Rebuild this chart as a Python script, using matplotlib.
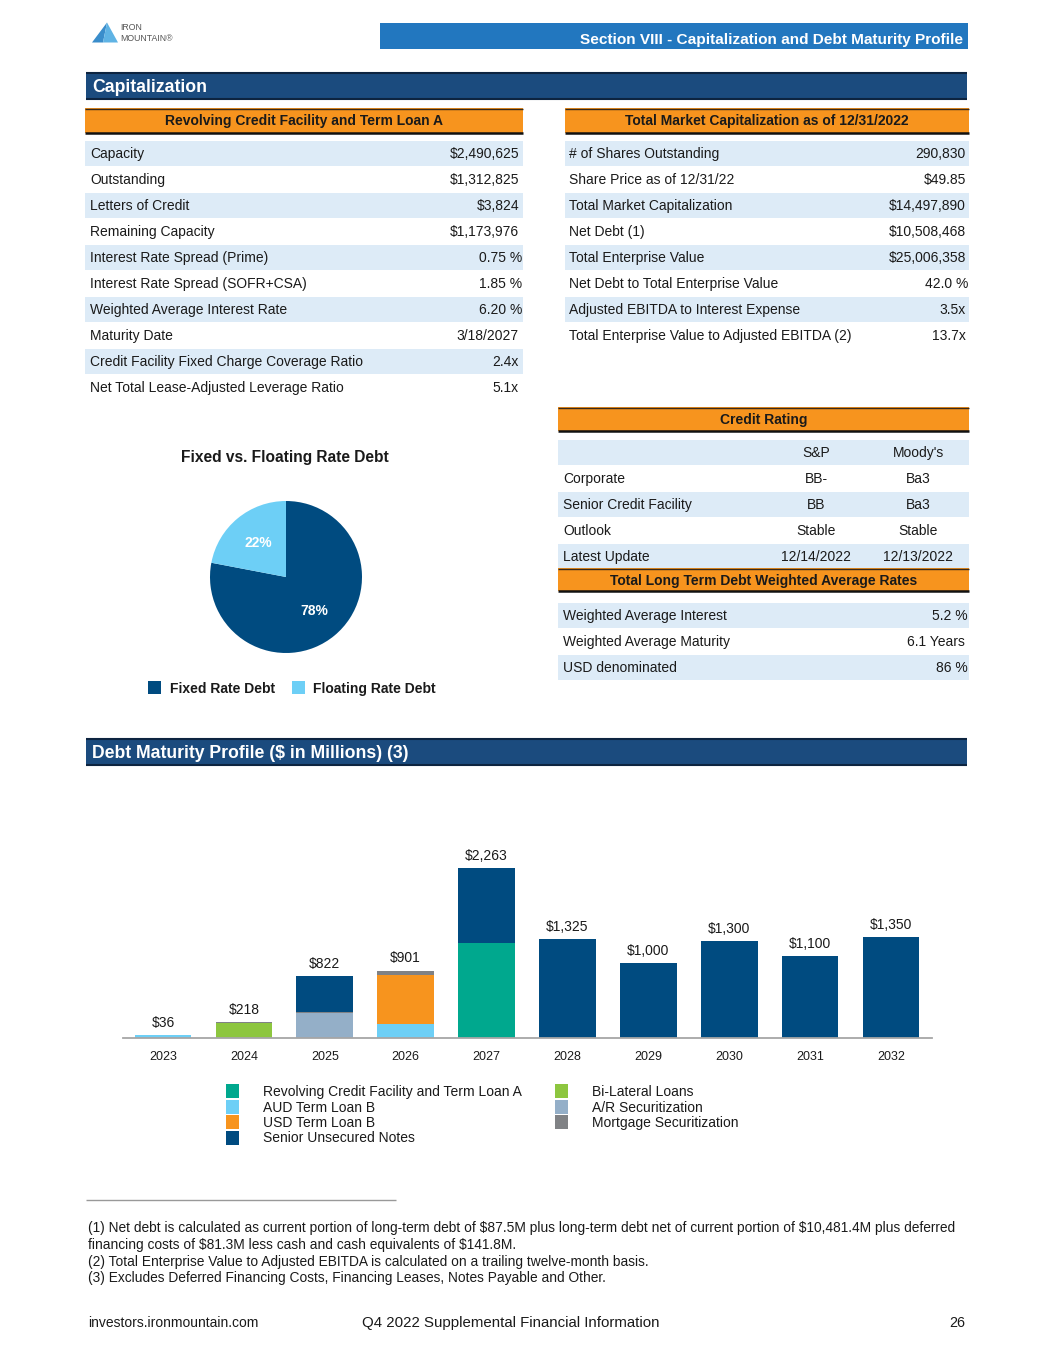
import matplotlib
matplotlib.use("Agg")
import matplotlib.pyplot as plt
from matplotlib.patches import Rectangle, Polygon
import numpy as np

plt.rcParams['font.family'] = ['Liberation Sans', 'DejaVu Sans']
plt.rcParams['text.parse_math'] = False

# ---------------- data ----------------
rcf_labels = ["Capacity", "Outstanding", "Letters of Credit", "Remaining Capacity",
              "Interest Rate Spread (Prime)", "Interest Rate Spread (SOFR+CSA)",
              "Weighted Average Interest Rate", "Maturity Date",
              "Credit Facility Fixed Charge Coverage Ratio", "Net Total Lease-Adjusted Leverage Ratio"]
rcf_values = ["$2,490,625", "$1,312,825", "$3,824", "$1,173,976", "0.75 %", "1.85 %",
              "6.20 %", "3/18/2027", "2.4x", "5.1x"]

mc_labels = ["# of Shares Outstanding", "Share Price as of 12/31/22", "Total Market Capitalization",
             "Net Debt (1)", "Total Enterprise Value", "Net Debt to Total Enterprise Value",
             "Adjusted EBITDA to Interest Expense", "Total Enterprise Value to Adjusted EBITDA (2)"]
mc_values = ["290,830", "$49.85", "$14,497,890", "$10,508,468", "$25,006,358", "42.0 %", "3.5x", "13.7x"]

cr_header = ["", "S&P", "Moody's"]
cr_rows = ["Corporate", "Senior Credit Facility", "Outlook", "Latest Update"]
cr_sp = ["BB-", "BB", "Stable", "12/14/2022"]
cr_moody = ["Ba3", "Ba3", "Stable", "12/13/2022"]

wa_labels = ["Weighted Average Interest", "Weighted Average Maturity", "USD denominated"]
wa_values = ["5.2 %", "6.1 Years", "86 %"]

pie_labels = ["Fixed Rate Debt", "Floating Rate Debt"]
pie_values = [78, 22]

years = ["2023", "2024", "2025", "2026", "2027", "2028", "2029", "2030", "2031", "2032"]
revolver = [0, 0, 0, 0, 1263, 0, 0, 0, 0, 0]
aud_tlb = [36, 0, 0, 190, 0, 0, 0, 0, 0, 0]
usd_tlb = [0, 0, 0, 655, 0, 0, 0, 0, 0, 0]
bilateral = [0, 200, 0, 0, 0, 0, 0, 0, 0, 0]
ar_sec = [0, 0, 335, 0, 0, 0, 0, 0, 0, 0]
mortgage = [0, 18, 6, 56, 0, 0, 0, 0, 0, 0]
notes = [0, 0, 481, 0, 1000, 1325, 1000, 1300, 1100, 1350]

footnotes = [
    "(1) Net debt is calculated as current portion of long-term debt of $87.5M plus long-term debt net of current portion of $10,481.4M plus deferred",
    "financing costs of $81.3M less cash and cash equivalents of $141.8M.",
    "(2) Total Enterprise Value to Adjusted EBITDA is calculated on a trailing twelve-month basis.",
    "(3) Excludes Deferred Financing Costs, Financing Leases, Notes Payable and Other.",
]

# ---------------- style ----------------
NAVY = '#004B80'
SECTION = '#1B4B7E'
HEADBLUE = '#2277BF'
ORANGE = '#F7941E'
SHADE = '#DDEBF7'
TEAL = '#00A88E'
LBLUE = '#6DCFF6'
GREEN = '#8DC63F'
STEEL = '#94AFC8'
GRAY = '#808285'
TXT = '#1A1A1A'

W, H = 1055, 1365
fig = plt.figure(figsize=(W / 100, H / 100), dpi=100)
bg = fig.add_axes([0, 0, 1, 1])
bg.set_xlim(0, W)
bg.set_ylim(H, 0)
bg.axis('off')

FS = 10


def rect(x0, y0, x1, y1, color, z=1):
    bg.add_patch(Rectangle((x0, y0), x1 - x0, y1 - y0, facecolor=color, edgecolor='none', zorder=z))


def hline(x0, x1, y, color, lw):
    bg.plot([x0, x1], [y, y], color=color, lw=lw, solid_capstyle='butt', zorder=3)


def text(x, y, s, ha='left', size=FS, weight='normal', color=TXT, **kw):
    # y is the visual centre of capital letters; place the baseline below it
    bg.text(x, y + 0.5 * size, s, ha=ha, va='baseline', fontsize=size, fontweight=weight, color=color,
            zorder=5, parse_math=False, **kw)


def orange_header(x0, x1, y0, y1, title):
    rect(x0, y0, x1, y1, ORANGE)
    hline(x0, x1, y0 + 0.5, '#3a2a1a', 1.0)
    hline(x0, x1, y1, '#111111', 1.8)
    text((x0 + x1) / 2, (y0 + y1) / 2, title, ha='center', size=10, weight='bold')


def section_bar(y0, y1, title):
    rect(86, y0, 967, y1, SECTION)
    hline(86, 967, y0, '#0d2440', 1.5)
    hline(86, 967, y1, '#0d2440', 1.5)
    text(92, (y0 + y1) / 2, title, size=12.7, weight='bold', color='white')


# ---------------- header ----------------
bg.add_patch(Polygon([[92, 42.5], [107, 22.5], [103, 42.5]], closed=True, facecolor='#3A8DCB', edgecolor='none'))
bg.add_patch(Polygon([[103, 42.5], [107, 22.5], [118, 42.5]], closed=True, facecolor='#5FB3E4', edgecolor='none'))
text(120, 27, "IRON", size=6.3, color='#555555')
text(120, 38, "MOUNTAIN\u00ae", size=6.3, color='#555555')

rect(380, 23, 968, 49, HEADBLUE)
text(963, 38, "Section VIII - Capitalization and Debt Maturity Profile", ha='right', size=11.1, weight='bold', color='white')

section_bar(73, 99, "Capitalization")

# ---------------- left table ----------------
orange_header(85, 523, 108, 133, "Revolving Credit Facility and Term Loan A")
for i, (lab, val) in enumerate(zip(rcf_labels, rcf_values)):
    yc = 153 + 26 * i
    if i % 2 == 0:
        rect(85, yc - 12.5, 523, yc + 12.5, SHADE)
    text(90, yc, lab)
    xr = 522 if val.endswith('%') else 519
    text(xr, yc, val, ha='right')

# ---------------- right table ----------------
orange_header(565, 969, 108, 133, "Total Market Capitalization as of 12/31/2022")
for i, (lab, val) in enumerate(zip(mc_labels, mc_values)):
    yc = 153 + 26 * i
    if i % 2 == 0:
        rect(565, yc - 12.5, 969, yc + 12.5, SHADE)
    text(569, yc, lab)
    xr = 968 if val.endswith('%') else 966
    text(xr, yc, val, ha='right')

# ---------------- credit rating ----------------
orange_header(558, 969, 407, 431, "Credit Rating")
rect(558, 440, 969, 465, SHADE)
text(816, 452, cr_header[1], ha='center')
text(918, 452, cr_header[2], ha='center')
for i, lab in enumerate(cr_rows):
    yc = 478 + 26 * i
    if i % 2 == 1:
        rect(558, yc - 12.5, 969, yc + 12.5, SHADE)
    text(563, yc, lab)
    text(816, yc, cr_sp[i], ha='center')
    text(918, yc, cr_moody[i], ha='center')

orange_header(558, 969, 568, 591, "Total Long Term Debt Weighted Average Rates")
for i, (lab, val) in enumerate(zip(wa_labels, wa_values)):
    yc = 615 + 26 * i
    if i % 2 == 0:
        rect(558, yc - 12.5, 969, yc + 12.5, SHADE)
    text(563, yc, lab)
    xr = 968 if val.endswith('%') else 965
    text(xr, yc, val, ha='right')

# ---------------- pie ----------------
text(285, 456, "Fixed vs. Floating Rate Debt", ha='center', size=11.2, weight='bold')
cx, cy, r = 286, 577, 76
pax = fig.add_axes([(cx - r) / W, 1 - (cy + r) / H, 2 * r / W, 2 * r / H])
wedges, _, autot = pax.pie(pie_values, colors=[NAVY, LBLUE], startangle=90, counterclock=False,
                           autopct='%d%%', pctdistance=0.58, radius=1,
                           wedgeprops=dict(linewidth=0))
for t in autot:
    t.set_color('white')
    t.set_fontweight('bold')
    t.set_fontsize(10)
pax.set_xlim(-1, 1)
pax.set_ylim(-1, 1)
pax.axis('off')

rect(148, 681, 161, 694, NAVY)
text(170, 688, pie_labels[0], size=10, weight='bold')
rect(292, 681, 305, 694, LBLUE)
text(313, 688, pie_labels[1], size=10, weight='bold')

# ---------------- debt maturity ----------------
section_bar(739, 765, "Debt Maturity Profile ($ in Millions) (3)")

bx0, bx1, by0, by1 = 122.5, 931.5, 830, 1038
bax = fig.add_axes([bx0 / W, 1 - by1 / H, (bx1 - bx0) / W, (by1 - by0) / H])
x = np.arange(len(years))
series = [
    ("Revolving Credit Facility and Term Loan A", revolver, TEAL),
    ("AUD Term Loan B", aud_tlb, LBLUE),
    ("USD Term Loan B", usd_tlb, ORANGE),
    ("Bi-Lateral Loans", bilateral, GREEN),
    ("A/R Securitization", ar_sec, STEEL),
    ("Mortgage Securitization", mortgage, GRAY),
    ("Senior Unsecured Notes", notes, NAVY),
]
bottom = np.zeros(len(years))
for name, vals, col in series:
    v = np.array(vals, dtype=float)
    bax.bar(x, v, bottom=bottom, width=0.70, color=col, linewidth=0, zorder=2)
    bottom += v
for xi, tot in zip(x, bottom):
    bax.annotate(f"${int(tot):,}", (xi, tot), xytext=(0, 5.8), textcoords='offset points',
                 ha='center', va='baseline', fontsize=10, color=TXT)
bax.set_xlim(-0.5, len(years) - 0.5)
bax.set_ylim(0, 2777)
bax.set_xticks(x)
bax.set_xticklabels(years, fontsize=9, color=TXT)
bax.tick_params(axis='x', length=0, pad=9.5)
bax.set_yticks([])
for s in ['top', 'right', 'left']:
    bax.spines[s].set_visible(False)
bax.spines['bottom'].set_color('#A6A6A6')
bax.spines['bottom'].set_linewidth(1.3)
bax.patch.set_alpha(0)

# legend
left_items = [series[0], series[1], series[2], series[6]]
right_items = [series[3], series[4], series[5]]
for i, (name, _, col) in enumerate(left_items):
    yc = 1091 + 15.5 * i
    rect(226, yc - 7, 239, yc + 7, col)
    text(263, yc, name, size=10)
for i, (name, _, col) in enumerate(right_items):
    yc = 1091 + 15.5 * i
    rect(555, yc - 7, 568, yc + 7, col)
    text(592, yc, name, size=10)

# ---------------- footnotes ----------------
hline(86, 396, 1200, '#999999', 1.0)
for s, yc in zip(footnotes, [1227, 1244, 1261, 1277]):
    text(88, yc, s, size=9.9)

text(88, 1322, "investors.ironmountain.com", size=10.0)
text(362, 1322, "Q4 2022 Supplemental Financial Information", size=10.8)
text(965, 1322, "26", ha='right', size=10.3)

fig.savefig("out.png", dpi=100)
